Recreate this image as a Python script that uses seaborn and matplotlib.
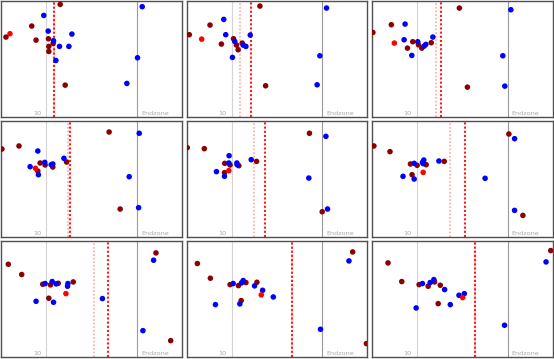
import pandas as pd
import matplotlib.pyplot as plt
import seaborn as sns

# Player positions per frame (yards; 10-yard line = 100, goal line = 110)
red_x = [
    [101.52, 98.37, 95.52, 98.85, 100.22, 100.74, 100.26, 100.26, 102.07],
    [103.11, 97.59, 95.30, 98.85, 100.19, 100.52, 100.70, 101.15, 103.74],
    [104.67, 97.15, 95.11, 99.52, 98.93, 100.15, 100.52, 101.56, 105.56],
    [106.93, 96.96, 95.07, 99.30, 99.85, 99.04, 100.70, 102.22, 108.15],
    [108.59, 95.07, 96.96, 99.22, 99.81, 100.78, 102.74, 99.19, 110.00],
    [95.22, 97.00, 99.26, 100.00, 101.00, 99.44, 103.00, 110.15, 111.70],
    [95.78, 97.26, 99.59, 100.44, 101.30, 102.96, 100.26, 112.11, 113.74],
    [96.19, 97.63, 99.81, 100.74, 101.56, 102.78, 101.04, 113.37, 114.89],
    [96.78, 98.30, 100.22, 101.22, 101.93, 102.56, 102.33, 114.78],
]
red_y = [
    [12.56, 10.15, 8.93, 8.59, 8.74, 8.22, 7.89, 7.33, 3.59],
    [12.37, 10.26, 9.19, 8.15, 8.74, 8.04, 7.52, 8.26, 3.52],
    [12.15, 10.30, 9.44, 8.41, 7.70, 8.07, 7.70, 8.30, 3.37],
    [11.70, 10.15, 9.81, 8.26, 8.04, 7.37, 7.81, 8.37, 3.15],
    [11.56, 9.96, 9.85, 8.22, 8.04, 7.96, 8.44, 7.19, 2.85],
    [10.15, 9.52, 8.15, 8.00, 8.07, 6.96, 8.44, 11.48, 2.44],
    [10.33, 9.19, 8.11, 8.04, 8.22, 8.37, 6.56, 11.59, 1.85],
    [10.41, 8.78, 8.07, 7.96, 8.30, 8.33, 6.30, 11.70, 1.52],
    [10.48, 8.41, 8.07, 7.89, 8.37, 8.00, 5.96, 11.85],
]
blue_x = [
    [110.59, 99.70, 100.19, 102.81, 100.78, 101.44, 102.48, 101.04, 110.07, 108.89],
    [110.48, 99.11, 99.33, 102.04, 100.33, 101.26, 101.56, 100.07, 109.74, 109.44],
    [110.37, 98.67, 98.56, 100.07, 100.78, 100.96, 101.74, 99.41, 109.48, 109.70],
    [110.26, 99.04, 98.19, 99.11, 99.81, 100.52, 100.70, 101.93, 109.15, 110.19],
    [110.41, 99.70, 99.67, 100.56, 100.59, 102.15, 98.30, 99.19, 108.52, 110.59],
    [110.78, 99.67, 100.59, 100.74, 100.67, 102.41, 98.44, 99.67, 107.52, 110.78],
    [111.85, 99.85, 100.63, 101.07, 102.37, 102.33, 98.85, 100.78, 106.19, 110.67],
    [112.96, 100.15, 101.07, 101.26, 102.52, 103.41, 98.19, 100.89, 104.59, 109.81],
    [114.26, 100.59, 101.44, 101.85, 103.04, 104.63, 105.22, 99.89, 103.67, 109.67],
]
blue_y = [
    [12.30, 11.33, 9.59, 9.26, 8.52, 7.89, 7.89, 6.33, 6.63, 3.78],
    [12.15, 10.89, 9.19, 9.15, 8.44, 8.04, 7.89, 6.67, 6.85, 3.63],
    [11.96, 10.37, 8.63, 8.41, 7.93, 8.11, 8.93, 6.89, 6.85, 3.48],
    [11.56, 9.59, 7.85, 6.96, 8.33, 8.07, 8.15, 8.78, 6.74, 3.30],
    [11.22, 9.07, 8.26, 8.26, 8.07, 8.63, 7.30, 6.78, 6.59, 3.15],
    [10.96, 8.22, 8.33, 8.59, 8.19, 8.48, 6.78, 6.48, 6.56, 3.00],
    [10.78, 8.19, 8.41, 8.15, 8.19, 7.89, 6.22, 6.11, 6.52, 2.96],
    [10.70, 8.19, 8.26, 8.52, 7.93, 7.44, 5.85, 5.93, 6.70, 3.11],
    [10.59, 8.19, 8.30, 8.63, 7.52, 6.89, 7.07, 5.48, 5.85, 3.56],
]
carrier_x = [95.96, 96.67, 97.48, 98.78, 99.67, 100.67, 102.15, 103.26, 105.04]
carrier_y = [9.30, 8.70, 8.26, 7.67, 7.41, 7.22, 7.07, 6.93, 6.63]

# scrimmage line (light) and current ball line (dark)
scrimmage_x = [100.81, 100.89, 102.04, 102.40, 102.41, 103.59, 105.30, 106.63, 106.41]
ball_x = [100.81, 102.07, 102.67, 102.65, 103.63, 105.33, 106.81, 106.63, 106.41]

# build one long table
rows = []
for f in range(9):
    for x, y in zip(red_x[f], red_y[f]):
        rows.append((f, x, y, 'red_team'))
    for x, y in zip(blue_x[f], blue_y[f]):
        rows.append((f, x, y, 'blue_team'))
    rows.append((f, carrier_x[f], carrier_y[f], 'carrier'))
df = pd.DataFrame(rows, columns=['frame', 'x', 'y', 'team'])

palette = {'red_team': '#8b0000', 'blue_team': '#0000ff', 'carrier': '#ff0000'}

sns.set_style('white')
fig, axes = plt.subplots(3, 3, figsize=(5.54, 3.59), dpi=100)
fig.subplots_adjust(left=0.0023, right=0.9977, top=0.9964, bottom=0.0047,
                    wspace=0.025, hspace=0.032)

for f, ax in enumerate(axes.flat):
    ax.axvline(100, color='#d4d4d4', lw=0.8, zorder=1)
    ax.axvline(110, color='#9a9a9a', lw=0.8, zorder=1)
    ax.axvline(scrimmage_x[f], color='#ffb3b3', lw=1.3, dashes=(1, 1), zorder=1)
    ax.axvline(ball_x[f], color='#ff1a1a', lw=1.5, dashes=(1, 1), zorder=1)
    ax.text(98.95, 0.28, '10', color='#a8a8a8', fontsize=4.6,
            ha='center', va='baseline')
    ax.text(110.45, 0.28, 'Endzone', color='#a8a8a8', fontsize=4.6,
            ha='left', va='baseline')

    sns.scatterplot(data=df[df['frame'] == f], x='x', y='y', hue='team',
                    palette=palette, s=16, linewidth=0, legend=False,
                    ax=ax, zorder=3)

    ax.set_xlim(95, 115)
    ax.set_ylim(0, 12.9)
    ax.set_xticks([])
    ax.set_yticks([])
    ax.set_xlabel('')
    ax.set_ylabel('')
    for sp in ax.spines.values():
        sp.set_color('#505050')
        sp.set_linewidth(1.0)

plt.savefig('out.png', dpi=100)
